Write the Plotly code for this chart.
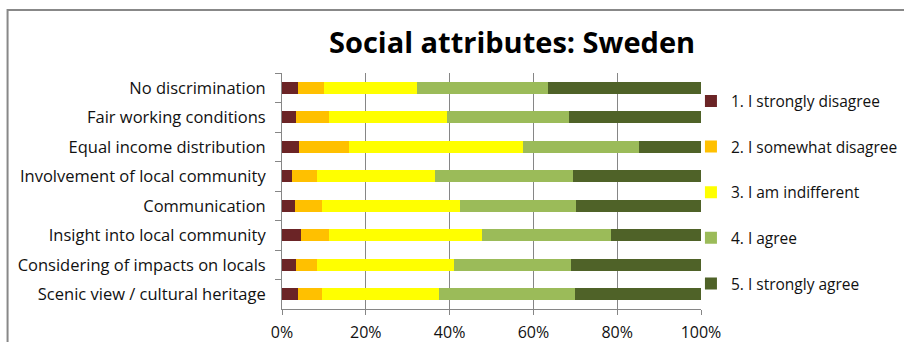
import plotly.graph_objects as go

# Attributes, listed top to bottom
attributes = [
    "No discrimination",
    "Fair working conditions",
    "Equal income distribution",
    "Involvement of local community",
    "Communication",
    "Insight into local community",
    "Considering of impacts on locals",
    "Scenic view / cultural heritage",
]

# Share of answers per response level (%), same order as attributes
strongly_disagree = [3.7, 3.4, 4.1, 2.5, 3.0, 4.5, 3.4, 3.9]
somewhat_disagree = [6.3, 7.8, 11.9, 5.9, 6.6, 6.7, 4.9, 5.7]
indifferent = [22.1, 28.2, 41.5, 28.0, 32.9, 36.5, 32.7, 27.9]
agree = [31.5, 29.2, 27.6, 33.0, 27.7, 30.7, 28.0, 32.4]
strongly_agree = [36.4, 31.4, 14.9, 30.6, 29.8, 21.6, 31.0, 30.1]

levels = [
    "1. I strongly disagree",
    "2. I somewhat disagree",
    "3. I am indifferent",
    "4. I agree",
    "5. I strongly agree",
]
series = [strongly_disagree, somewhat_disagree, indifferent, agree, strongly_agree]
colors = ["#6B2426", "#FFC000", "#FFFF00", "#9BBB59", "#4F6228"]

tick_vals = [0, 20, 40, 60, 80, 100]
tick_text = ["0%", "20%", "40%", "60%", "80%", "100%"]

FONT = "Open Sans"
GRID = "#868686"
TEXT = "#111111"

fig = go.Figure()
for name, vals, col in zip(levels, series, colors):
    fig.add_trace(go.Bar(
        y=attributes, x=vals, name=name, orientation="h",
        marker=dict(color=col, line=dict(width=0)),
        legendgroup=name,
    ))

# outer chart frame
fig.add_shape(type="rect", xref="paper", yref="paper",
              x0=-0.655, x1=1.52, y0=-0.2, y1=1.267,
              line=dict(color="#888888", width=2), fillcolor="rgba(0,0,0,0)",
              layer="below")

fig.update_layout(
    width=904, height=342,
    margin=dict(l=282, r=203, t=72.5, b=32.5, autoexpand=False),
    paper_bgcolor="white", plot_bgcolor="white",
    barmode="stack", bargap=0.58,
    font=dict(family=FONT, size=15, color=TEXT),
    title=dict(text="<b>Social attributes: Sweden</b>",
               font=dict(family=FONT, size=29, color="#000000"),
               x=0.549, xanchor="center", xref="paper",
               y=1 - 43 / 342, yanchor="middle", yref="container"),
    legend=dict(x=0.976, xanchor="left", y=0.952, yanchor="top",
                traceorder="grouped", tracegroupgap=22.5, maxheight=340,
                bgcolor="rgba(0,0,0,0)", font=dict(family=FONT, size=15.5, color=TEXT)),
    xaxis=dict(range=[0, 100], tickvals=tick_vals, ticktext=tick_text,
               showgrid=True, gridcolor=GRID, gridwidth=1,
               showline=True, linecolor=GRID, linewidth=1,
               ticks="outside", ticklen=5, tickcolor=GRID,
               ticklabelstandoff=4, zeroline=False,
               tickfont=dict(family=FONT, size=16, color=TEXT)),
    yaxis=dict(autorange="reversed", showline=True, linecolor=GRID, linewidth=1,
               ticks="outside", ticklen=6, tickcolor=GRID, tickson="boundaries",
               ticklabelstandoff=12, showgrid=False,
               tickfont=dict(family=FONT, size=16.5, color=TEXT)),
)

fig.write_html("out.html")
